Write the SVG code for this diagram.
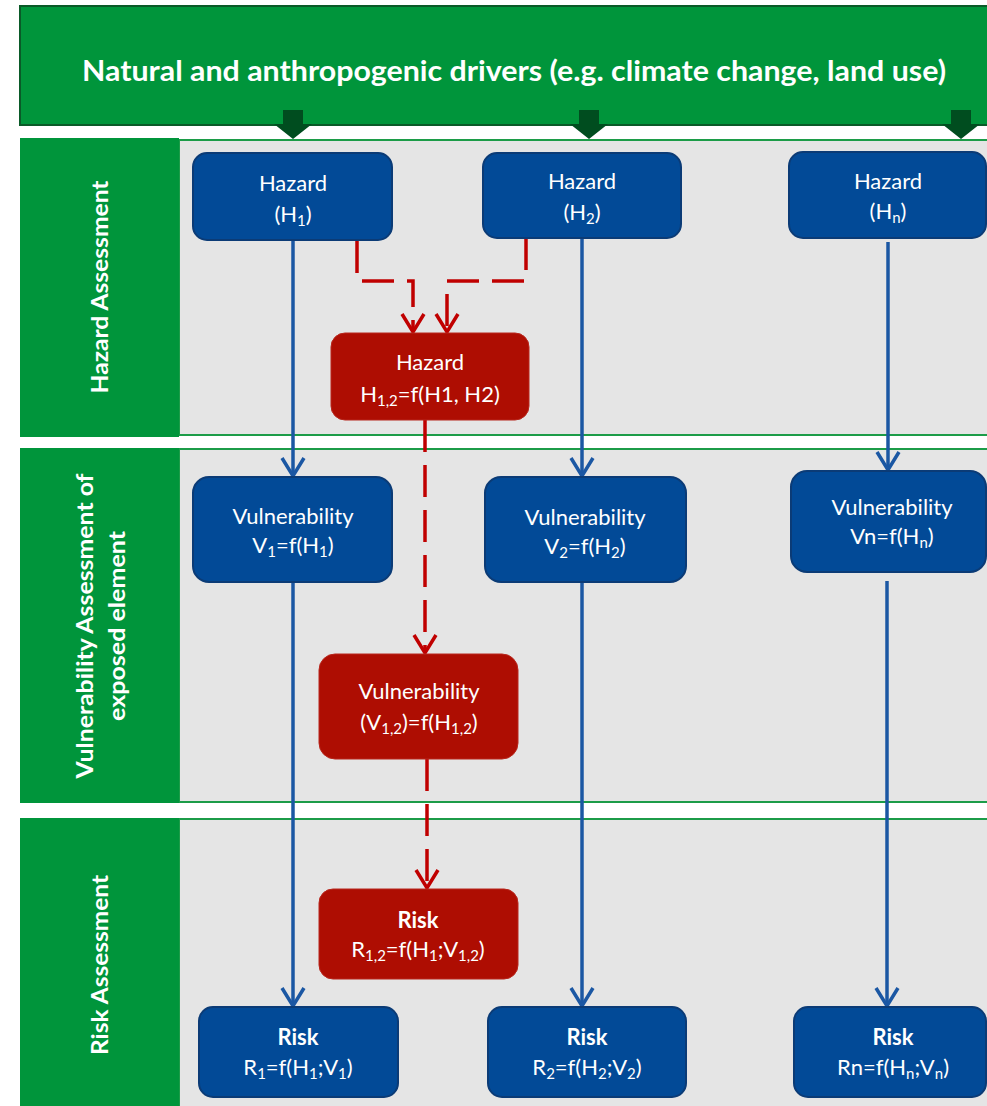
<svg xmlns="http://www.w3.org/2000/svg" width="987" height="1106" viewBox="0 0 987 1106">
<defs>
<style>
.lbl{fill:#00953B}
.band{fill:#E5E5E5;stroke:#1C9C48;stroke-width:2}
.bx{fill:#024A97;stroke:#0B3B76;stroke-width:2}
.rx{fill:#AE0D02;stroke:#B8261C;stroke-width:1}
.t{font-family:Lato,"Open Sans",sans-serif;font-size:22px;fill:#FFFFFF;text-anchor:middle}
.b{font-weight:bold}
.vt{font-family:Lato,"Open Sans",sans-serif;font-size:23px;font-weight:bold;fill:#FFFFFF;text-anchor:middle}
.sb{font-size:15px}
.bl{fill:none;stroke:#1B57A3;stroke-width:3.5}
.rd{fill:none;stroke:#C00000;stroke-width:3.5;stroke-dasharray:32 13}
.drv{fill:#004D1F}
</style>
<marker id="ab" markerUnits="userSpaceOnUse" viewBox="-22 -14 26 28" markerWidth="26" markerHeight="28" refX="0" refY="0" orient="auto">
<path d="M-18,-11 L0,0 L-18,11" fill="none" stroke="#1B57A3" stroke-width="3.5"/>
</marker>
<marker id="ar" markerUnits="userSpaceOnUse" viewBox="-22 -14 26 28" markerWidth="26" markerHeight="28" refX="0" refY="0" orient="auto">
<path d="M-18,-11 L0,0 L-18,11" fill="none" stroke="#C00000" stroke-width="3.5"/>
</marker>
</defs>
<rect width="987" height="1106" fill="#FFFFFF"/>

<g id="drivers">
<rect x="20" y="6" width="980" height="119" fill="#00953B" stroke="#0A5A28" stroke-width="2"/>
<text x="514" y="81" class="t b" style="font-size:28px" textLength="864" lengthAdjust="spacingAndGlyphs">Natural and anthropogenic drivers (e.g. climate change, land use)</text>
</g>

<g id="band-hazard">
<rect class="band" x="179" y="140" width="820" height="295"/>
<rect class="lbl" x="20" y="138" width="159" height="299"/>
<text class="vt" transform="translate(108,287) rotate(-90)" textLength="213" lengthAdjust="spacingAndGlyphs">Hazard Assessment</text>
</g>
<g id="band-vulnerability">
<rect class="band" x="179" y="449" width="820" height="353"/>
<rect class="lbl" x="20" y="448" width="159" height="355"/>
<text class="vt" transform="translate(93,626) rotate(-90)" textLength="305" lengthAdjust="spacingAndGlyphs">Vulnerability Assessment of</text>
<text class="vt" transform="translate(125,626) rotate(-90)" textLength="190" lengthAdjust="spacingAndGlyphs">exposed element</text>
</g>
<g id="band-risk">
<rect class="band" x="179" y="819" width="820" height="300"/>
<rect class="lbl" x="20" y="818" width="159" height="288"/>
<text class="vt" transform="translate(108,965) rotate(-90)" textLength="180" lengthAdjust="spacingAndGlyphs">Risk Assessment</text>
</g>

<g id="driver-arrows">
<path class="drv" d="M283,110 H303 V124 H312 L293,139 L274,124 H283 Z"/>
<path class="drv" d="M579,110 H599 V124 H608 L589,139 L570,124 H579 Z"/>
<path class="drv" d="M951,110 H971 V124 H980 L961,139 L942,124 H951 Z"/>
</g>

<g id="connectors">
<line class="bl" x1="293" y1="241" x2="293" y2="476" marker-end="url(#ab)"/>
<line class="bl" x1="293" y1="582" x2="293" y2="1006" marker-end="url(#ab)"/>
<line class="bl" x1="582" y1="238" x2="582" y2="476" marker-end="url(#ab)"/>
<line class="bl" x1="582" y1="582" x2="582" y2="1006" marker-end="url(#ab)"/>
<line class="bl" x1="888" y1="242" x2="888" y2="470" marker-end="url(#ab)"/>
<line class="bl" x1="887" y1="581" x2="887" y2="1006" marker-end="url(#ab)"/>
<path class="rd" d="M357,241 V281 H413 V332" marker-end="url(#ar)"/>
<path class="rd" d="M526,238 V281 H447 V332" marker-end="url(#ar)"/>
<path class="rd" d="M425,420 V653" marker-end="url(#ar)"/>
<path class="rd" d="M427,759 V888" marker-end="url(#ar)"/>
</g>

<g id="hazard-h1">
<rect class="bx" x="193" y="153" width="199" height="87" rx="14"/>
<text class="t" x="293" y="191">Hazard</text>
<text class="t" x="293" y="222">(H<tspan class="sb" dy="4">1</tspan><tspan dy="-4">)</tspan></text>
</g>
<g id="hazard-h2">
<rect class="bx" x="483" y="153" width="198" height="85" rx="14"/>
<text class="t" x="582" y="189">Hazard</text>
<text class="t" x="582" y="220">(H<tspan class="sb" dy="4">2</tspan><tspan dy="-4">)</tspan></text>
</g>
<g id="hazard-hn">
<rect class="bx" x="789" y="152" width="197" height="86" rx="14"/>
<text class="t" x="888" y="189">Hazard</text>
<text class="t" x="888" y="219">(H<tspan class="sb" dy="4">n</tspan><tspan dy="-4">)</tspan></text>
</g>
<g id="hazard-h12">
<rect class="rx" x="331" y="333" width="198" height="87" rx="14"/>
<text class="t" x="430" y="370">Hazard</text>
<text class="t" x="430" y="402">H<tspan class="sb" dy="4">1,2</tspan><tspan dy="-4">=f(H1, H2)</tspan></text>
</g>
<g id="vuln-v1">
<rect class="bx" x="193" y="477" width="199" height="105" rx="16"/>
<text class="t" x="293" y="524">Vulnerability</text>
<text class="t" x="293" y="553">V<tspan class="sb" dy="4">1</tspan><tspan dy="-4">=f(H</tspan><tspan class="sb" dy="4">1</tspan><tspan dy="-4">)</tspan></text>
</g>
<g id="vuln-v2">
<rect class="bx" x="485" y="477" width="201" height="105" rx="16"/>
<text class="t" x="585" y="525">Vulnerability</text>
<text class="t" x="585" y="554">V<tspan class="sb" dy="4">2</tspan><tspan dy="-4">=f(H</tspan><tspan class="sb" dy="4">2</tspan><tspan dy="-4">)</tspan></text>
</g>
<g id="vuln-vn">
<rect class="bx" x="791" y="471" width="195" height="101" rx="16"/>
<text class="t" x="892" y="515">Vulnerability</text>
<text class="t" x="892" y="544">Vn=f(H<tspan class="sb" dy="4">n</tspan><tspan dy="-4">)</tspan></text>
</g>
<g id="vuln-v12">
<rect class="rx" x="319" y="654" width="199" height="105" rx="16"/>
<text class="t" x="419" y="699">Vulnerability</text>
<text class="t" x="419" y="730">(V<tspan class="sb" dy="4">1,2</tspan><tspan dy="-4">)=f(H</tspan><tspan class="sb" dy="4">1,2</tspan><tspan dy="-4">)</tspan></text>
</g>
<g id="risk-r12">
<rect class="rx" x="319" y="889" width="199" height="90" rx="14"/>
<text class="t b" x="418" y="928">Risk</text>
<text class="t" x="418" y="957">R<tspan class="sb" dy="4">1,2</tspan><tspan dy="-4">=f(H</tspan><tspan class="sb" dy="4">1</tspan><tspan dy="-4">;V</tspan><tspan class="sb" dy="4">1,2</tspan><tspan dy="-4">)</tspan></text>
</g>
<g id="risk-r1">
<rect class="bx" x="199" y="1007" width="199" height="90" rx="14"/>
<text class="t b" x="298" y="1045">Risk</text>
<text class="t" x="298" y="1075">R<tspan class="sb" dy="4">1</tspan><tspan dy="-4">=f(H</tspan><tspan class="sb" dy="4">1</tspan><tspan dy="-4">;V</tspan><tspan class="sb" dy="4">1</tspan><tspan dy="-4">)</tspan></text>
</g>
<g id="risk-r2">
<rect class="bx" x="488" y="1007" width="198" height="90" rx="14"/>
<text class="t b" x="587" y="1045">Risk</text>
<text class="t" x="587" y="1075">R<tspan class="sb" dy="4">2</tspan><tspan dy="-4">=f(H</tspan><tspan class="sb" dy="4">2</tspan><tspan dy="-4">;V</tspan><tspan class="sb" dy="4">2</tspan><tspan dy="-4">)</tspan></text>
</g>
<g id="risk-rn">
<rect class="bx" x="794" y="1007" width="192" height="90" rx="14"/>
<text class="t b" x="893" y="1045">Risk</text>
<text class="t" x="893" y="1075">Rn=f(H<tspan class="sb" dy="4">n</tspan><tspan dy="-4">;V</tspan><tspan class="sb" dy="4">n</tspan><tspan dy="-4">)</tspan></text>
</g>
</svg>
